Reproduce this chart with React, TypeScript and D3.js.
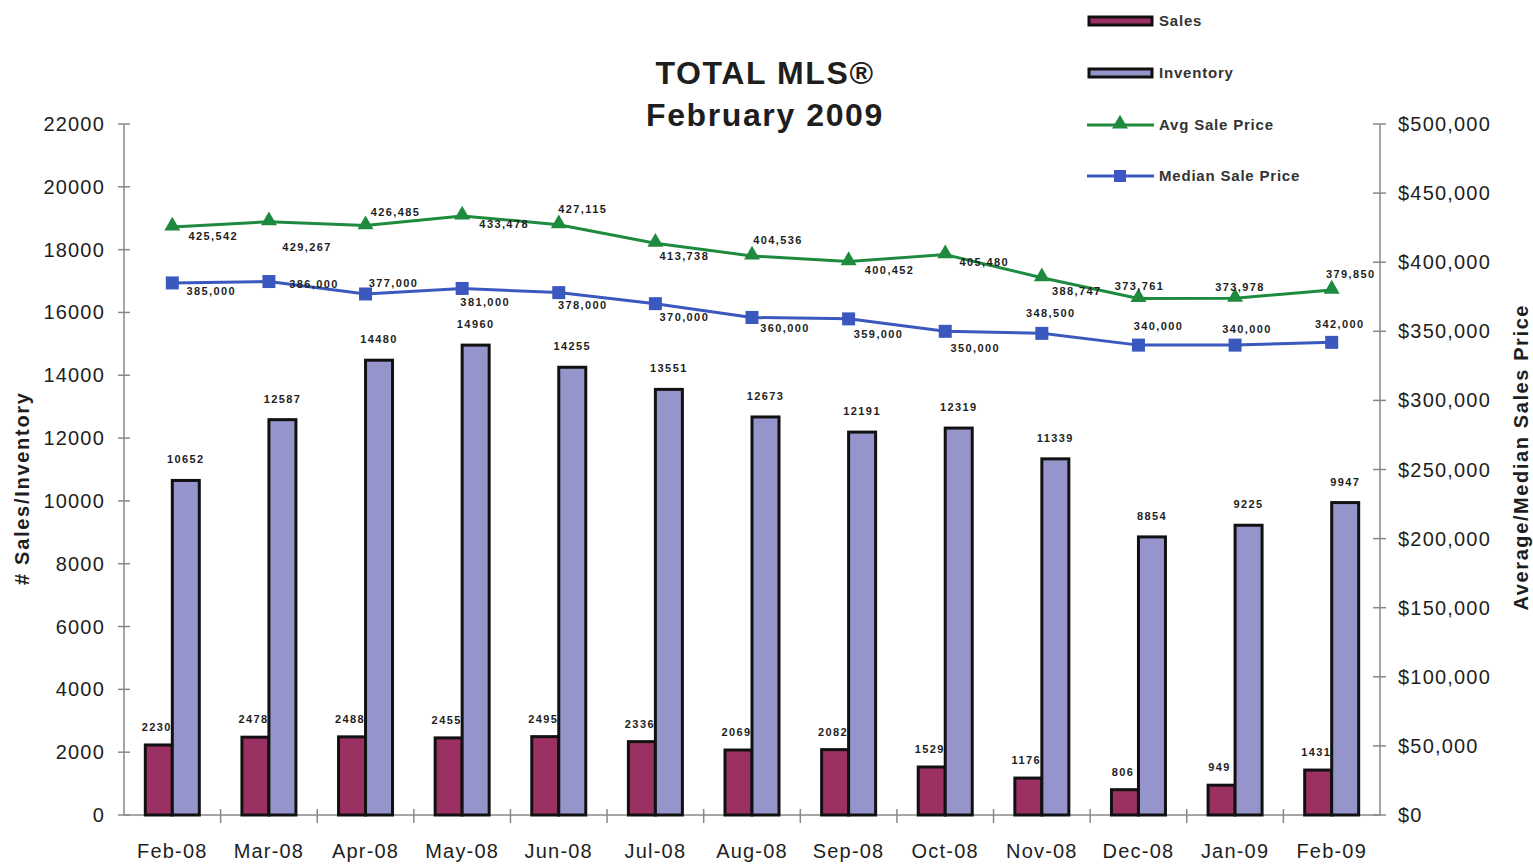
import React from "react";
import * as d3 from "d3";

const months = ["Feb-08","Mar-08","Apr-08","May-08","Jun-08","Jul-08","Aug-08","Sep-08","Oct-08","Nov-08","Dec-08","Jan-09","Feb-09"];
const sales = [2230, 2478, 2488, 2455, 2495, 2336, 2069, 2082, 1529, 1176, 806, 949, 1431];
const inventory = [10652, 12587, 14480, 14960, 14255, 13551, 12673, 12191, 12319, 11339, 8854, 9225, 9947];
const avgPrice = [425542, 429267, 426485, 433478, 427115, 413738, 404536, 400452, 405480, 388747, 373761, 373978, 379850];
const medianPrice = [385000, 386000, 377000, 381000, 378000, 370000, 360000, 359000, 350000, 348500, 340000, 340000, 342000];
const leftTicks = [0, 2000, 4000, 6000, 8000, 10000, 12000, 14000, 16000, 18000, 20000, 22000];
const rightTicks = [0, 50000, 100000, 150000, 200000, 250000, 300000, 350000, 400000, 450000, 500000];

// label placement (layout only)
const avgLabelDx = [41, 38, 30, 42, 24, 29, 26, 41, 39, 35, 1, 5, 19];
const avgLabelDy = [9, 25, -13, 8, -16, 13, -16, 9, 8, 13, -12, -11, -16];
const medLabelDx = [39, 45, 28, 23, 24, 29, 33, 30, 30, 9, 20, 12, 8];
const medLabelDy = [8, 3, -11, 14, 13, 13, 11, 15, 17, -20, -19, -16, -18];

const W = 1533, H = 866;
const L = 124, R = 1380, T = 124, B = 815;
const SALES_C = "#9b3063";
const INV_C = "#9595cc";
const AVG_C = "#1e8a3e";
const MED_C = "#3a58bd";
const TXT = "#1e1e1e";
const FONT = "'Liberation Sans', Arial, sans-serif";

export default function App() {
  const x = d3.scaleBand<string>().domain(months).range([L, R]).paddingInner(0).paddingOuter(0);
  const yL = d3.scaleLinear().domain([0, 22000]).range([B, T]);
  const yR = d3.scaleLinear().domain([0, 500000]).range([B, T]);
  const bw = 27;
  const cx = (m: string) => (x(m) as number) + x.bandwidth() / 2;

  const avgLine = d3.line<number>().x((_, i) => cx(months[i])).y((d) => yR(d));
  const medLine = d3.line<number>().x((_, i) => cx(months[i])).y((d) => yR(d));
  const fmt = d3.format(",");

  const tri = d3.symbol().type(d3.symbolTriangle).size(110)() as string;
  const tickStyle = { letterSpacing: "1.2px" };
  const lblStyle = { letterSpacing: "1.4px" };

  return (
    <svg width={W} height={H} style={{ position: "absolute", left: 0, top: 0, background: "#fff" }} fontFamily={FONT}>
      <rect x={0} y={0} width={W} height={H} fill="#fff" />
      {/* title */}
      <text x={765} y={84} textAnchor="middle" fontSize={32} fontWeight="bold" fill={TXT} style={{ letterSpacing: "1.6px" }}>TOTAL MLS®</text>
      <text x={765} y={126} textAnchor="middle" fontSize={32} fontWeight="bold" fill={TXT} style={{ letterSpacing: "1.6px" }}>February 2009</text>

      {/* left axis */}
      <line x1={L} x2={L} y1={T} y2={B} stroke="#888" strokeWidth={1.5} />
      {leftTicks.map((t) => (
        <g key={"l" + t}>
          <line x1={L - 6} x2={L + 6} y1={yL(t)} y2={yL(t)} stroke="#888" strokeWidth={1.5} />
          <text x={105} y={yL(t)} dy="0.35em" textAnchor="end" fontSize={20} fill={TXT} style={tickStyle}>{t}</text>
        </g>
      ))}
      {/* right axis */}
      <line x1={R} x2={R} y1={T} y2={B} stroke="#888" strokeWidth={1.5} />
      {rightTicks.map((t) => (
        <g key={"r" + t}>
          <line x1={R - 7} x2={R + 6} y1={yR(t)} y2={yR(t)} stroke="#888" strokeWidth={1.5} />
          <text x={1398} y={yR(t)} dy="0.35em" textAnchor="start" fontSize={20} fill={TXT} style={tickStyle}>{d3.format("$,")(t)}</text>
        </g>
      ))}
      {/* x axis */}
      <line x1={L} x2={R} y1={B} y2={B} stroke="#888" strokeWidth={1.5} />
      {months.map((m, i) => (
        <g key={"x" + m}>
          {i > 0 && <line x1={x(m) as number} x2={x(m) as number} y1={B - 6} y2={B + 8} stroke="#888" strokeWidth={1.5} />}
          <text x={cx(m)} y={858} textAnchor="middle" fontSize={20} fill={TXT} style={tickStyle}>{m}</text>
        </g>
      ))}

      {/* axis titles */}
      <text transform={`translate(29,489) rotate(-90)`} textAnchor="middle" fontSize={20} fontWeight="bold" fill={TXT} textLength={192} lengthAdjust="spacing"># Sales/Inventory</text>
      <text transform={`translate(1528,458) rotate(-90)`} textAnchor="middle" fontSize={20} fontWeight="bold" fill={TXT} textLength={305} lengthAdjust="spacing">Average/Median Sales Price</text>

      {/* bars */}
      {months.map((m, i) => {
        const c = cx(m);
        return (
          <g key={"b" + m}>
            <rect x={c - bw} y={yL(sales[i])} width={bw} height={B - yL(sales[i])} fill={SALES_C} stroke="#111" strokeWidth={3} />
            <rect x={c} y={yL(inventory[i])} width={bw} height={B - yL(inventory[i])} fill={INV_C} stroke="#111" strokeWidth={3} />
            <text x={c - bw / 2 - 2} y={yL(sales[i]) - 14} textAnchor="middle" fontSize={11} fontWeight="bold" fill={TXT} style={lblStyle}>{sales[i]}</text>
            <text x={c + bw / 2} y={yL(inventory[i]) - 17} textAnchor="middle" fontSize={11} fontWeight="bold" fill={TXT} style={lblStyle}>{inventory[i]}</text>
          </g>
        );
      })}

      {/* lines */}
      <path d={avgLine(avgPrice) as string} fill="none" stroke={AVG_C} strokeWidth={3} />
      <path d={medLine(medianPrice) as string} fill="none" stroke={MED_C} strokeWidth={3} />
      {months.map((m, i) => (
        <g key={"p" + m}>
          <path d={tri} transform={`translate(${cx(m)},${yR(avgPrice[i]) - 1})`} fill={AVG_C} />
          <rect x={cx(m) - 6.5} y={yR(medianPrice[i]) - 6.5} width={13} height={13} fill={MED_C} />
          <text x={cx(m) + avgLabelDx[i]} y={yR(avgPrice[i]) + avgLabelDy[i]} dy="0.35em" textAnchor="middle" fontSize={11} fontWeight="bold" fill={TXT} style={lblStyle}>{fmt(avgPrice[i])}</text>
          <text x={cx(m) + medLabelDx[i]} y={yR(medianPrice[i]) + medLabelDy[i]} dy="0.35em" textAnchor="middle" fontSize={11} fontWeight="bold" fill={TXT} style={lblStyle}>{fmt(medianPrice[i])}</text>
        </g>
      ))}

      {/* legend */}
      <g style={{ letterSpacing: "0.8px" }}>
        <rect x={1089} y={17} width={63} height={8} fill={SALES_C} stroke="#111" strokeWidth={3} />
        <text x={1159} y={21} dy="0.35em" fontSize={15} fontWeight="bold" fill="#333">Sales</text>
        <rect x={1089} y={69} width={63} height={8} fill={INV_C} stroke="#111" strokeWidth={3} />
        <text x={1159} y={73} dy="0.35em" fontSize={15} fontWeight="bold" fill="#333">Inventory</text>
        <line x1={1087} x2={1154} y1={125} y2={125} stroke={AVG_C} strokeWidth={3} />
        <path d={tri} transform="translate(1120,124)" fill={AVG_C} />
        <text x={1159} y={125} dy="0.35em" fontSize={15} fontWeight="bold" fill="#333">Avg Sale Price</text>
        <line x1={1087} x2={1154} y1={176} y2={176} stroke={MED_C} strokeWidth={3} />
        <rect x={1114} y={170} width={12} height={12} fill={MED_C} />
        <text x={1159} y={176} dy="0.35em" fontSize={15} fontWeight="bold" fill="#333">Median Sale Price</text>
      </g>
    </svg>
  );
}
